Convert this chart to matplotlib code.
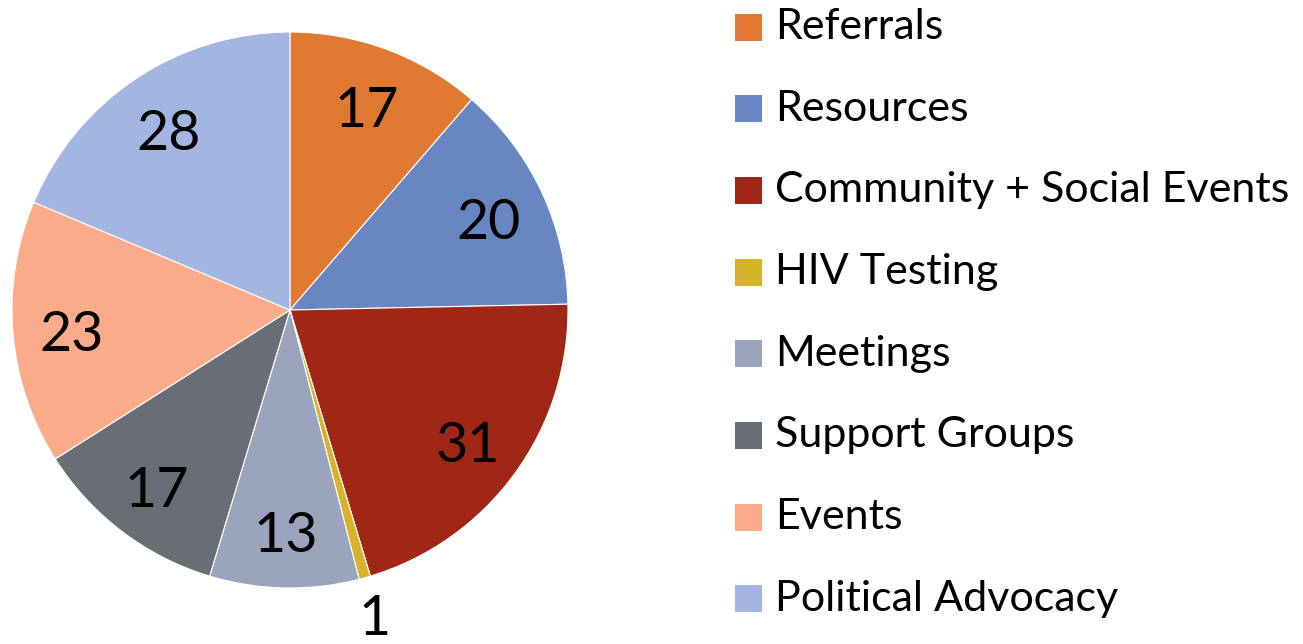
import matplotlib
matplotlib.use("Agg")
import matplotlib.pyplot as plt
import matplotlib.patches as mpatches
import matplotlib.transforms as mtransforms
import numpy as np

categories = ["Referrals", "Resources", "Community + Social Events", "HIV Testing",
              "Meetings", "Support Groups", "Events", "Political Advocacy"]
values = [17, 20, 31, 1, 13, 17, 23, 28]
colors = ["#E07A33", "#6886C2", "#A02716", "#D9B22C", "#9AA4BD", "#696E76", "#FBAB89", "#A3B6E1"]

plt.rcParams['font.family'] = ['Lato', 'DejaVu Sans']

W, H = 1303, 644
fig = plt.figure(figsize=(W/100, H/100), dpi=100)
cx, cy, R = 290, 310, 278
ax = fig.add_axes([(cx-R)/W, (H-cy-R)/H, 2*R/W, 2*R/H])
wedges, _ = ax.pie(values, colors=colors, startangle=90, counterclock=False,
                   radius=1.0, wedgeprops=dict(edgecolor='white', linewidth=0.8))
ax.set_xlim(-1, 1); ax.set_ylim(-1, 1)
ax.set_aspect('equal')
ax.axis('off')

tr = mtransforms.offset_copy(ax.transData, fig=fig, x=0, y=-7, units='dots')
for w, v in zip(wedges, values):
    mid = np.deg2rad((w.theta1 + w.theta2) / 2)
    d = 1.13 if v < 5 else 0.79
    ax.text(d*np.cos(mid), d*np.sin(mid), str(v), ha='center', va='center',
            fontsize=40, color='black', clip_on=False, transform=tr)

# legend
y0, dy, sq = 27, 81.7, 27
for i, (c, lab) in enumerate(zip(colors, categories)):
    yc = y0 + i*dy
    fig.patches.append(mpatches.Rectangle((735/W, (H-yc-sq/2)/H), sq/W, sq/H,
                                          transform=fig.transFigure, facecolor=c,
                                          edgecolor='none'))
    fig.text(775/W, (H-yc-12)/H, lab, ha='left', va='baseline', fontsize=31, color='black')

fig.savefig("out.png", dpi=100)
